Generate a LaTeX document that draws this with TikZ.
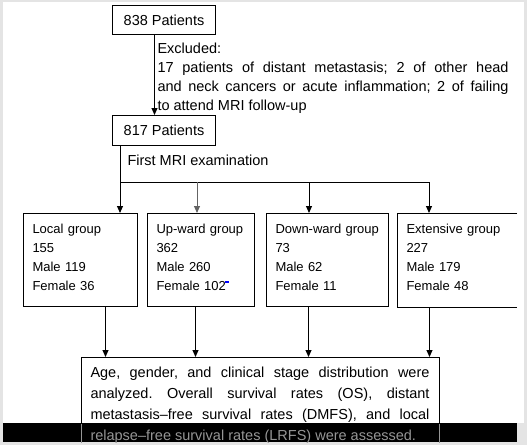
\documentclass[tikz,border=0pt]{standalone}
\usepackage{fontspec}
\setmainfont{Liberation Sans}
\usetikzlibrary{arrows.meta}
\definecolor{framegray}{RGB}{228,228,228}
\definecolor{bandtext}{RGB}{150,150,150}
\definecolor{branchgray}{RGB}{100,100,100}
\newcommand\fbig{\fontsize{14.5}{19}\selectfont\frenchspacing}
\newcommand\fres{\fontsize{14.5}{21}\selectfont\frenchspacing}
\newcommand\fgrp{\fontsize{13}{19}\selectfont}
\begin{document}
\begin{tikzpicture}[x=1pt,y=-1pt,line width=1pt,
  box/.style={draw,inner sep=0pt,font=\fbig,anchor=north west},
  grp/.style={anchor=north west,inner xsep=9pt,inner ysep=11pt,text depth=62pt,align=left,font=\fgrp},
  arr/.style={-{Triangle[length=7pt,width=6pt]},line width=1pt}]
\useasboundingbox (0,0) rectangle (527,445);
\fill[framegray] (0,0) rectangle (527,445);
\fill[white] (3,2) rectangle (524,423);
\fill[black] (3,423) rectangle (517,442);

% top boxes
\node[box,minimum width=103pt,minimum height=29pt] (p838) at (112,5) {838 Patients};
\node[box,minimum width=103pt,minimum height=30pt] (p817) at (112,115) {817 Patients};
\draw[arr] ([xshift=-9.5pt]p838.south) -- ([xshift=-9.5pt]p838.south |- p817.north);
\node[anchor=north west,inner sep=0pt,text width=351pt,align=justify,font=\fbig] (excl) at (157,42.4)
  {Excluded:\\17 patients of distant metastasis; 2 of other head\linebreak and neck cancers or acute inflammation; 2 of failing\linebreak to attend MRI follow-up};

% groups
\node[grp,draw,text width=96pt] (loc) at (23,213) {Local group\\155\\Male 119\\Female 36};
\node[grp,draw,text width=89pt] (up) at (147,213) {Up-ward group\\362\\Male 260\\Female 102};
\node[grp,draw,text width=104pt] (down) at (266,213) {Down-ward group\\73\\Male 62\\Female 11};
\node[grp,text width=101pt] (ext) at (397,213) {Extensive group\\227\\Male 179\\Female 48};
\draw (ext.north east) -- (ext.north west) -- (ext.south west) -- (ext.south east);
\fill[blue] (225,281) rectangle (229,283);

% branching
\coordinate (j) at (120,182);
\coordinate (bu) at (197,182);
\coordinate (bd) at (309,182);
\coordinate (be) at (429,182);
\draw (p817.south -| j) -- (j) -- (be);
\node[anchor=base west,inner sep=0pt,font=\fbig] (mri) at (127,165.8) {First MRI examination};
\draw[arr] (j) -- (j |- loc.north);
\draw[arr,branchgray] (bu) -- (bu |- up.north);
\draw[arr] (bd) -- (bd |- down.north);
\draw[arr] (be) -- (be |- ext.north);

% result box
\node[anchor=north west,inner sep=0pt,minimum width=357pt,minimum height=66pt] (res) at (81,357) {};
\draw (res.south west) -- (res.north west) -- (res.north east) -- (res.south east);
\draw[bandtext,line width=0.8pt] (res.south west) -- ++(0,19);
\draw[bandtext,line width=0.8pt] (res.south east) -- ++(0,19);
\node[anchor=north west,inner sep=0pt,text width=339pt,align=justify,font=\fres] (restext) at (90,366.5)
  {Age, gender, and clinical stage distribution were\linebreak analyzed. Overall survival rates (OS), distant\linebreak metastasis–free survival rates (DMFS), and local\linebreak {\color{bandtext}relapse–free survival rates (LRFS) were assessed.}};

\draw[arr] ([xshift=25pt]loc.south) -- ([xshift=25pt]loc.south |- res.north);
\draw[arr] ([xshift=-5.5pt]up.south) -- ([xshift=-5.5pt]up.south |- res.north);
\draw[arr] ([xshift=-19pt]down.south) -- ([xshift=-19pt]down.south |- res.north);
\draw[arr] ([xshift=-27.5pt]ext.south) -- ([xshift=-27.5pt]ext.south |- res.north);
\end{tikzpicture}
\end{document}
